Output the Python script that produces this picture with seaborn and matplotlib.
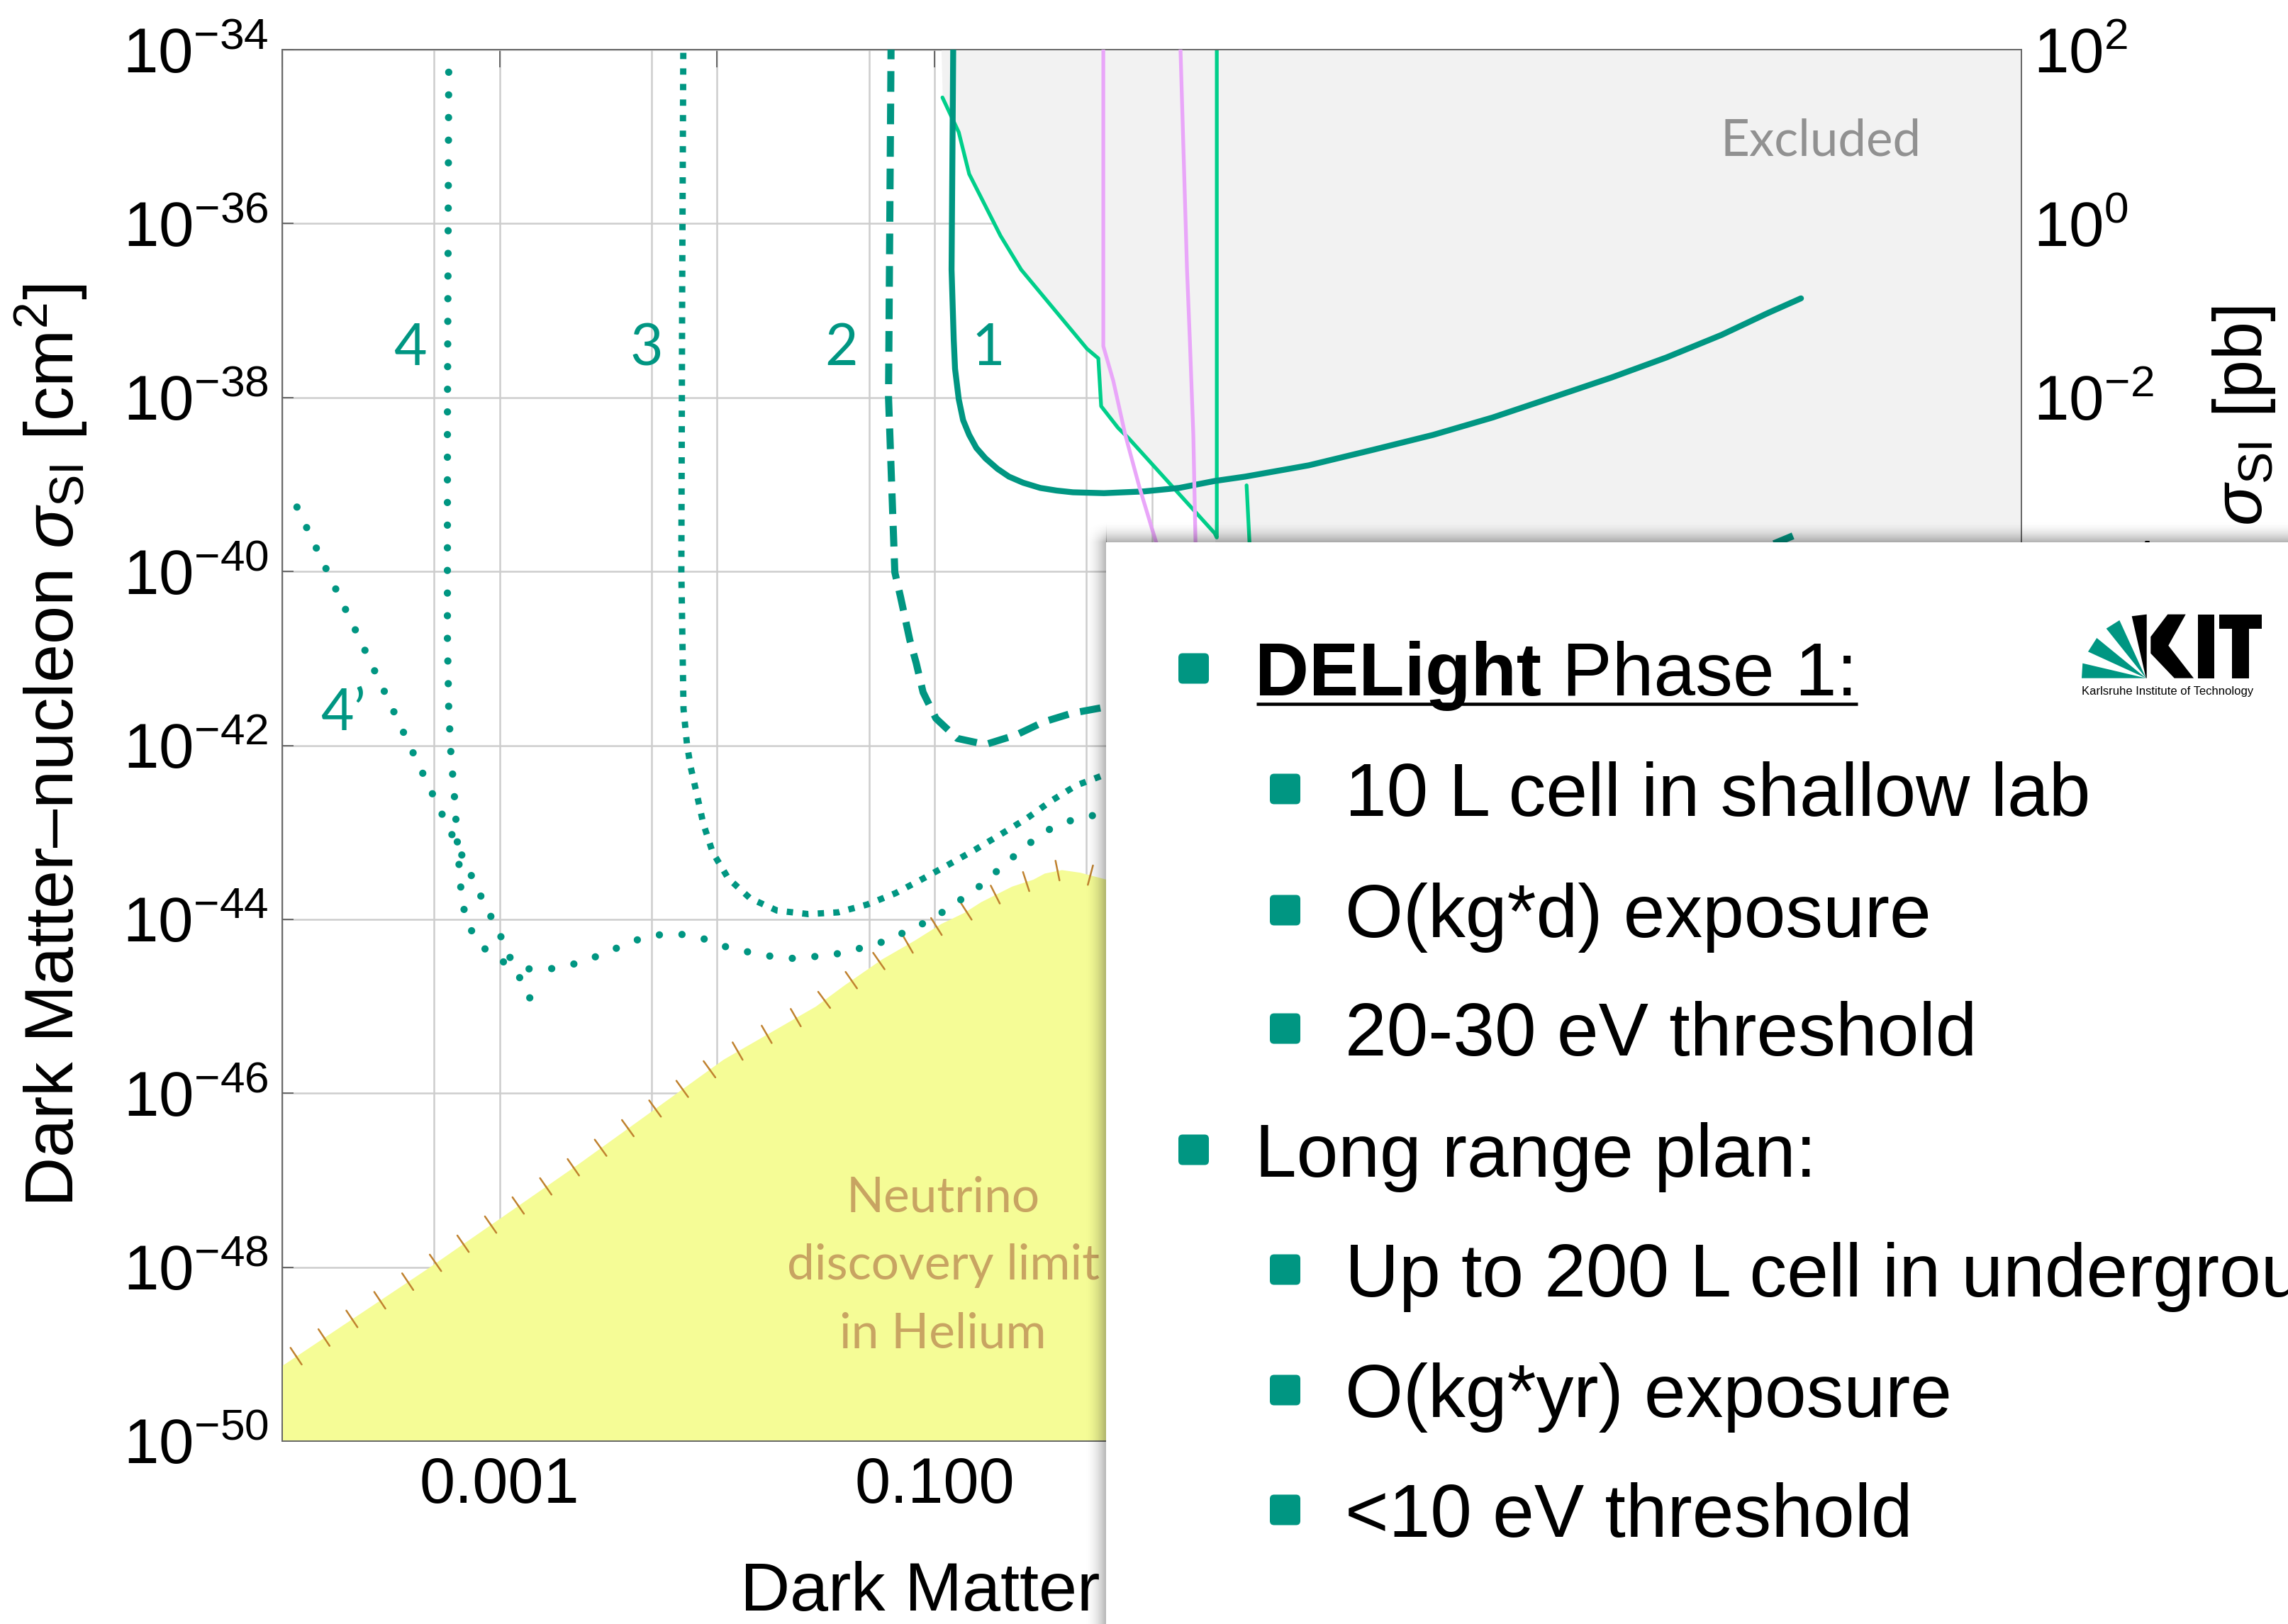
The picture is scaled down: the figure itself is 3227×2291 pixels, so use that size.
import numpy as np
import pandas as pd
import matplotlib
matplotlib.use("Agg")
import matplotlib.pyplot as plt
import matplotlib.patheffects as pe
from matplotlib.patches import Polygon, FancyBboxPatch, Rectangle
from matplotlib.ticker import FixedLocator, NullLocator, FixedFormatter, NullFormatter
import seaborn as sns

# ---------------------------------------------------------------------------
# Limit curves: log10(mass / GeV) and log10(sigma_SI / cm^2)
# ---------------------------------------------------------------------------
# Phase 1 projection (solid, "1")
c1_logm = [-0.912, -0.921, -0.916, -0.911, -0.905, -0.888, -0.868, -0.840, -0.807,
           -0.765, -0.710, -0.657, -0.592, -0.513, -0.438, -0.363, -0.220, -0.037,
           0.126, 0.289, 0.429, 0.722, 1.020, 1.294, 1.568, 1.842, 2.115, 2.367,
           2.621, 2.833, 2.986]
c1_logs = [-33.5, -36.53, -36.94, -37.34, -37.67, -38.02, -38.26, -38.43, -38.58,
           -38.70, -38.82, -38.91, -38.98, -39.04, -39.07, -39.09, -39.10, -39.08,
           -39.04, -38.96, -38.91, -38.78, -38.60, -38.43, -38.23, -38.00, -37.77,
           -37.54, -37.28, -37.03, -36.86]

# dashed, "2"
c2_logm = [-1.198, -1.211, -1.182, -1.156, -1.113, -1.084, -1.052, -0.993, -0.895,
           -0.765, -0.624, -0.497, -0.367, -0.236, 0.0, 1.0, 2.0, 2.7, 2.96]
c2_logs = [-33.5, -38.00, -40.01, -40.29, -40.79, -41.05, -41.39, -41.69, -41.92,
           -41.99, -41.88, -41.73, -41.63, -41.57, -41.45, -41.00, -40.35, -39.85,
           -39.58]

# square-dotted, "3"
c3_logm = [-2.154, -2.160, -2.164, -2.154, -2.138, -2.121, -2.092, -2.063, -2.020,
           -1.948, -1.847, -1.723, -1.580, -1.443, -1.309, -1.179, -1.058, -0.934,
           -0.813, -0.693, -0.575, -0.464, -0.347, -0.220, 0.3, 1.3, 2.3, 2.96]
c3_logs = [-33.5, -36.69, -40.00, -41.58, -41.99, -42.25, -42.57, -42.90, -43.23,
           -43.53, -43.76, -43.90, -43.94, -43.92, -43.83, -43.70, -43.54, -43.37,
           -43.20, -43.02, -42.84, -42.64, -42.46, -42.34, -41.90, -41.30, -40.70,
           -40.30]

# round-dotted, "4"
c4_logm = [-3.234, -3.240, -3.240, -3.234, -3.224, -3.207, -3.194, -3.178, -3.162,
           -3.126, -3.061, -2.976, -2.904, -2.858]
c4_logs = [-34.26, -38.32, -40.76, -41.58, -42.09, -42.61, -43.13, -43.65, -43.91,
           -44.15, -44.36, -44.50, -44.68, -44.92]

# round-dotted, "4'"
c4p_logm = [-3.932, -3.798, -3.664, -3.530, -3.397, -3.263, -3.172, -3.083, -2.992,
            -2.950, -2.871, -2.767, -2.666, -2.568, -2.470, -2.372, -2.275, -2.170,
            -2.066, -1.968, -1.867, -1.766, -1.661, -1.557, -1.453, -1.352, -1.250,
            -1.156, -1.061, -0.970, -0.882, -0.797, -0.719, -0.641, -0.559, -0.474,
            -0.380, -0.278, 0.2, 1.2, 2.2, 2.96]
c4p_logs = [-39.26, -39.97, -40.67, -41.38, -42.09, -42.80, -43.27, -43.75, -44.21,
            -44.45, -44.57, -44.57, -44.52, -44.44, -44.34, -44.24, -44.18, -44.17,
            -44.22, -44.31, -44.37, -44.42, -44.45, -44.43, -44.40, -44.34, -44.27,
            -44.17, -44.06, -43.93, -43.78, -43.63, -43.46, -43.29, -43.12, -42.97,
            -42.87, -42.81, -42.60, -42.10, -41.60, -41.20]

# existing limits (thin lines)
exp_a_logm = [-0.963, -0.888, -0.840, -0.696, -0.601, -0.298, -0.246, -0.233, -0.155,
              -0.106, 0.289, 0.299, 0.299]
exp_a_logs = [-34.55, -34.95, -35.43, -36.14, -36.53, -37.44, -37.55, -38.10, -38.35,
              -38.47, -39.56, -39.61, -33.5]
exp_b_logm = [0.436, 0.449, 0.470]
exp_b_logs = [-39.01, -39.65, -40.50]
exp_c_logm = [-0.223, -0.223, -0.177, -0.122, -0.057, 0.018, 0.116]
exp_c_logs = [-33.5, -37.41, -37.81, -38.43, -39.03, -39.65, -40.50]
exp_d_logm = [0.132, 0.162, 0.175, 0.191, 0.201, 0.214]
exp_d_logs = [-34.0, -36.53, -37.34, -38.43, -39.65, -40.76]

# excluded region boundary
excl_logm = [-0.970, -0.963, -0.888, -0.840, -0.696, -0.601, -0.298, -0.246, -0.233,
             -0.155, -0.106, 0.289, 0.300, 4.0]
excl_logs = [-33.9, -34.55, -34.95, -35.43, -36.14, -36.53, -37.44, -37.55, -38.10,
             -38.35, -38.47, -39.56, -40.20, -40.20]

# neutrino discovery limit in helium
nu_logm = [-4.0, -3.335, -2.637, -1.971, -1.547, -1.417, -1.244, -1.091, -0.970,
           -0.862, -0.787, -0.644, -0.546, -0.494, -0.415, -0.331, -0.210, 0.3, 1.0,
           2.0, 3.0, 4.0]
nu_logs = [-49.13, -48.02, -46.81, -45.61, -45.00, -44.76, -44.46, -44.24, -44.05,
           -43.92, -43.80, -43.62, -43.54, -43.47, -43.43, -43.46, -43.54, -44.0,
           -44.8, -45.8, -46.6, -47.3]

# axis ticks and labels (labels under the panel are left blank)
x_tick_exp = list(range(-4, 5))
x_tick_labels = ["", "0.001", "", "0.100", "", "", "", "", ""]
y_tick_exp = list(range(-50, -33, 2))
pb_tick_exp = list(range(-14, 3, 2))
pb_tick_labels = ["", "", "", "", "", "$10^{-4}$", "$10^{-2}$", "$10^{0}$", "$10^{2}$"]

curve_labels = ["4", "3", "2", "1"]
slide_items = [
    (1, "Long range plan:"),
    (2, "Up to 200 L cell in underground lab"),
    (2, "O(kg*yr) exposure"),
    (2, "<10 eV threshold"),
]
phase1_items = ["10 L cell in shallow lab", "O(kg*d) exposure", "20-30 eV threshold"]

# ---------------------------------------------------------------------------
TEAL = "#009682"
GREEN = "#00CF8A"
PINK = "#E9A6F9"
YELLOW = "#F5FC96"

sns.set_theme(style="white")
plt.rcParams["font.family"] = ["Liberation Sans", "DejaVu Sans"]
plt.rcParams["mathtext.fontset"] = "custom"
plt.rcParams["mathtext.rm"] = "Liberation Sans"
plt.rcParams["mathtext.it"] = "Liberation Sans:italic"
plt.rcParams["mathtext.bf"] = "Liberation Sans:bold"
plt.rcParams["lines.scale_dashes"] = False
plt.rcParams["axes.unicode_minus"] = True

W, H = 3227, 2291
fig = plt.figure(figsize=(W / 100, H / 100), dpi=100, facecolor="white")
L, R, T, B = 398, 2851, 70, 2033
ax = fig.add_axes([L / W, 1 - B / H, (R - L) / W, (B - T) / H])
ax.set_xscale("log")
ax.set_yscale("log")


def curve(logm, logs, **kw):
    df = pd.DataFrame({"m": 10.0 ** np.asarray(logm), "s": 10.0 ** np.asarray(logs)})
    sns.lineplot(data=df, x="m", y="s", sort=False, estimator=None, ax=ax,
                 legend=False, **kw)


# shaded regions
ax.fill_between(10.0 ** np.asarray(excl_logm), 10.0 ** np.asarray(excl_logs), 1e-30,
                color="#F2F2F2", lw=0, zorder=1)
ax.fill_between(10.0 ** np.asarray(nu_logm), 1e-60, 10.0 ** np.asarray(nu_logs),
                color=YELLOW, lw=0, zorder=1)
ticked = [pe.TickedStroke(spacing=34, angle=90, length=0.3),
          pe.TickedStroke(spacing=34, angle=-90, length=0.3)]
curve(nu_logm, nu_logs, color="#C0822F", lw=1.8, path_effects=ticked, zorder=1.2)

# existing limits
curve(exp_a_logm, exp_a_logs, color=GREEN, lw=3.8, zorder=2)
curve(exp_b_logm, exp_b_logs, color=GREEN, lw=3.8, zorder=2)

# projections
curve(c4_logm, c4_logs, color=TEAL, lw=7.4, linestyle=(0, (0.001, 23)),
      dash_capstyle="round", zorder=3)
curve(c4p_logm, c4p_logs, color=TEAL, lw=7.4, linestyle=(0, (0.001, 23)),
      dash_capstyle="round", zorder=3)
curve(c3_logm, c3_logs, color=TEAL, lw=6.4, linestyle=(0, (6.4, 9.4)),
      dash_capstyle="butt", zorder=3)
curve(c2_logm, c2_logs, color=TEAL, lw=7.2, linestyle=(0, (21, 12)),
      dash_capstyle="butt", zorder=3)
curve(c1_logm, c1_logs, color=TEAL, lw=6.0, zorder=3)

curve(exp_c_logm, exp_c_logs, color=PINK, lw=3.8, zorder=4)
curve(exp_d_logm, exp_d_logs, color=PINK, lw=3.8, zorder=4)

ax.set_xlim(1e-4, 1e4)
ax.set_ylim(1e-50, 1e-34)

# ticks, grid, spines
ax.xaxis.set_major_locator(FixedLocator(10.0 ** np.asarray(x_tick_exp, float)))
ax.xaxis.set_major_formatter(FixedFormatter(x_tick_labels))
ax.xaxis.set_minor_locator(FixedLocator(5 * 10.0 ** np.arange(-4, 4, dtype=float)))
ax.xaxis.set_minor_formatter(NullFormatter())
ax.yaxis.set_major_locator(FixedLocator(10.0 ** np.asarray(y_tick_exp, float)))
ax.yaxis.set_major_formatter(FixedFormatter([f"$10^{{{e}}}$" for e in y_tick_exp]))
ax.yaxis.set_minor_locator(NullLocator())

ax.set_axisbelow(True)
ax.grid(True, which="both", axis="x", color="#CDCDCD", lw=1.8)
ax.grid(True, which="major", axis="y", color="#CDCDCD", lw=1.8)
ax.tick_params(axis="x", which="major", direction="in", length=18, width=1.4,
               color="#666666", top=True, bottom=True, labelsize=65, pad=15,
               labelcolor="black")
ax.tick_params(axis="x", which="minor", length=0)
ax.tick_params(axis="y", which="major", direction="in", length=11.5, width=1.4,
               color="#666666", left=True, right=False, labelsize=64, pad=14,
               labelcolor="black")
for sp in ax.spines.values():
    sp.set_color("#666666")
    sp.set_linewidth(1.4)

sec = ax.secondary_yaxis("right", functions=(lambda y: y * 1e36, lambda y: y / 1e36))
sec.yaxis.set_major_locator(FixedLocator(10.0 ** np.asarray(pb_tick_exp, float)))
sec.yaxis.set_major_formatter(FixedFormatter(pb_tick_labels))
sec.yaxis.set_minor_locator(NullLocator())
sec.tick_params(axis="y", which="major", direction="in", length=11.5, width=1.4,
                color="#666666", labelsize=64, pad=12, labelcolor="black")
sec.tick_params(axis="y", which="minor", length=0)
sec.spines["right"].set_color("#666666")
sec.spines["right"].set_linewidth(1.4)

ax.set_xlabel("Dark Matter Mass [GeV/c$^2$]", fontsize=70, color="black")
ax.xaxis.label.set_ha("left")
ax.xaxis.label.set_va("baseline")
ax.xaxis.set_label_coords((1043 - L) / (R - L), -(2272 - B) / (B - T))
ax.set_ylabel("Dark Matter\u2013nucleon $\\sigma_{\\mathrm{SI}}$ [cm$^2$]",
              fontsize=70, color="black")
ax.yaxis.label.set_va("center")
ax.yaxis.set_label_coords(-(L - 72) / (R - L), 0.5)
sec.set_ylabel("Dark Matter\u2013nucleon $\\sigma_{\\mathrm{SI}}$ [pb]",
               fontsize=70, color="black", rotation=90)
sec.yaxis.label.set_va("center")
sec.yaxis.set_label_coords((3165 - L) / (R - L), 0.5, transform=ax.transAxes)

# ---------------------------------------------------------------------------
# Overlay in pixel coordinates: annotations, slide panel, logo
# ---------------------------------------------------------------------------
ov = fig.add_axes([0, 0, 1, 1], zorder=10)
ov.set_xlim(0, W)
ov.set_ylim(H, 0)
ov.axis("off")

for lab, xc in zip(curve_labels, [578, 912, 1187, 1394]):
    ov.text(xc, 515, lab, ha="center", va="baseline", fontsize=58,
            family="Lato", color=TEAL, zorder=1)
ov.text(452, 1030, "4\u2019", ha="left", va="baseline", fontsize=58,
        family="Lato", color=TEAL, zorder=1)
ov.text(2426, 219, "Excluded", ha="left", va="baseline", fontsize=51,
        family="Lato", color="#919191", zorder=1)
for txt, yb in zip(["Neutrino", "discovery limit", "in Helium"], [1710, 1805, 1902]):
    ov.text(1330, yb, txt, ha="center", va="baseline", fontsize=50,
            family="Lato", color="#C8A462", zorder=1)

# panel with soft shadow
BX, BY = 1560, 765
sw = 32
ramp = np.linspace(0, 1, sw) ** 2 * 0.30
left_sh = np.zeros((1, sw, 4))
left_sh[0, :, 3] = ramp
ov.imshow(left_sh, extent=(BX - sw, BX, H, BY), aspect="auto",
          interpolation="bilinear", zorder=2)
top_sh = np.zeros((sw, 1, 4))
top_sh[:, 0, 3] = ramp
ov.imshow(top_sh, extent=(BX, W, BY, BY - sw), aspect="auto",
          interpolation="bilinear", zorder=2)
corner = np.zeros((sw, sw, 4))
corner[:, :, 3] = np.outer(ramp, ramp) / 0.30
ov.imshow(corner, extent=(BX - sw, BX, BY, BY - sw), aspect="auto",
          interpolation="bilinear", zorder=2)
ov.add_patch(Rectangle((BX, BY), W - BX, H - BY, facecolor="white",
                       edgecolor="none", zorder=3))


def bullet(x0, yb):
    ov.add_patch(FancyBboxPatch((x0, yb - 38 - 21.5), 43, 43,
                                boxstyle="round,pad=0,rounding_size=6",
                                facecolor=TEAL, edgecolor="none", zorder=4))


FS = 76
X1, X2 = 1770, 1897
renderer = fig.canvas.get_renderer()

# first item: bold name + underline
bullet(1662, 981)
t1 = ov.text(X1, 981, "DELight", ha="left", va="baseline", fontsize=FS,
             weight="bold", color="black", zorder=5)
x_end = t1.get_window_extent(renderer=renderer).x1
t2 = ov.text(x_end, 981, " Phase 1:", ha="left", va="baseline", fontsize=FS,
             color="black", zorder=5)
x_end2 = t2.get_window_extent(renderer=renderer).x1
ov.plot([X1 + 2, x_end2], [993, 993], color="black", lw=3.3, zorder=5,
        solid_capstyle="butt")

for txt, yb in zip(phase1_items, [1151, 1322, 1489]):
    bullet(1791, yb)
    ov.text(X2, yb, txt, ha="left", va="baseline", fontsize=FS, color="black",
            zorder=5)

for (lvl, txt), yb in zip(slide_items, [1660, 1829, 1999, 2168]):
    bullet(1662 if lvl == 1 else 1791, yb)
    ov.text(X1 if lvl == 1 else X2, yb, txt, ha="left", va="baseline",
            fontsize=FS, color="black", zorder=5, clip_on=True)

# KIT logo
apex = (3026.7, 956.7)
for pts in [[(2936, 956.7), (2937.3, 935.7), apex],
            [(2945, 919.3), (2957.3, 900), apex],
            [(2970.7, 886.7), (2989.3, 875), apex]]:
    ov.add_patch(Polygon(pts, closed=True, facecolor=TEAL, edgecolor="none", zorder=5))
black_parts = [
    [(3006.7, 869.3), (3027.7, 866.7), (3027.7, 956.7), (3026.7, 956.7)],
    [(3033.3, 898.3), (3057.3, 866.7), (3082.7, 866.7), (3058.3, 910.7),
     (3094, 956.7), (3066.7, 956.7), (3033.3, 921.7)],
    [(3100, 866.7), (3123.3, 866.7), (3123.3, 956.7), (3100, 956.7)],
    [(3130, 866.7), (3190, 866.7), (3190, 886.7), (3171.7, 886.7),
     (3171.7, 956.7), (3148.3, 956.7), (3148.3, 886.7), (3130, 886.7)],
]
for pts in black_parts:
    ov.add_patch(Polygon(pts, closed=True, facecolor="black", edgecolor="none", zorder=5))
ov.text(2936, 980, "Karlsruhe Institute of Technology", ha="left", va="baseline",
        fontsize=12, color="black", zorder=5)

ov.set_xlim(0, W)
ov.set_ylim(H, 0)

fig.savefig("out.png", dpi=100, facecolor="white")
